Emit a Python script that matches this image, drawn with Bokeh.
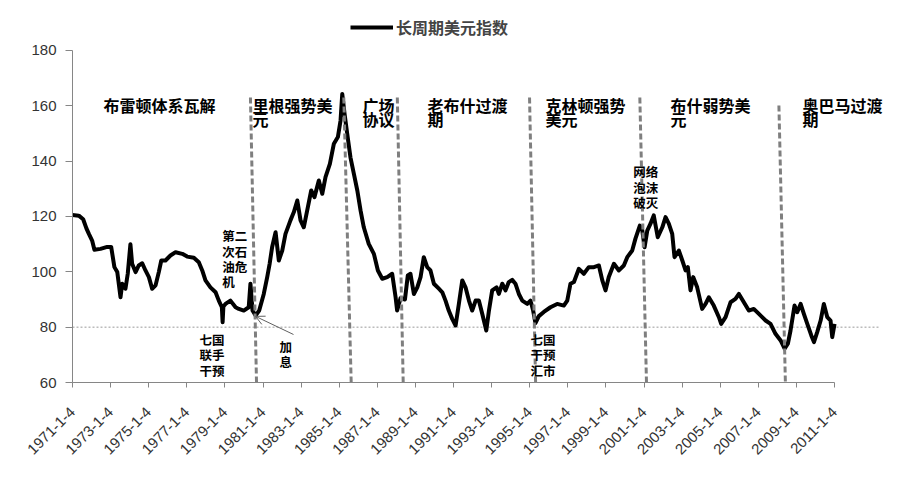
from math import pi
from bokeh.plotting import figure
from bokeh.models import (Range1d, FixedTicker, Legend, LegendItem,
                          Arrow, OpenHead, ColumnDataSource)
from bokeh.core.properties import value
from bokeh.embed import file_html
from bokeh.resources import INLINE

# ---- data (decimal year, index value) ----
years = [1971.00, 1971.33, 1971.56, 1971.73, 1971.86, 1972.03, 1972.15, 1972.47, 1972.82, 1973.03,
         1973.20, 1973.35, 1973.52, 1973.61, 1973.78, 1973.90, 1974.04, 1974.13, 1974.31, 1974.48,
         1974.66, 1974.83, 1975.01, 1975.18, 1975.36, 1975.53, 1975.66, 1975.88, 1976.14, 1976.41,
         1976.76, 1977.02, 1977.37, 1977.63, 1977.81, 1977.98, 1978.24, 1978.51, 1978.68, 1978.84,
         1978.88, 1978.92, 1979.03, 1979.29, 1979.56, 1979.73, 1979.99, 1980.25, 1980.34, 1980.45,
         1980.61, 1980.80, 1981.04, 1981.22, 1981.35, 1981.48, 1981.66, 1981.83, 1982.01, 1982.18,
         1982.44, 1982.62, 1982.80, 1982.97, 1983.14, 1983.32, 1983.53, 1983.70, 1983.93, 1984.11,
         1984.28, 1984.51, 1984.72, 1984.93, 1985.07, 1985.16, 1985.28, 1985.42, 1985.59, 1985.77,
         1985.95, 1986.12, 1986.29, 1986.55, 1986.82, 1987.03, 1987.26, 1987.52, 1987.78, 1987.96,
         1988.04, 1988.22, 1988.45, 1988.60, 1988.74, 1988.92, 1989.10, 1989.27, 1989.44, 1989.62,
         1989.79, 1989.97, 1990.23, 1990.41, 1990.58, 1990.75, 1990.93, 1991.11, 1991.28, 1991.46,
         1991.63, 1991.81, 1991.98, 1992.16, 1992.33, 1992.51, 1992.72, 1992.86, 1993.03, 1993.26,
         1993.38, 1993.56, 1993.73, 1993.90, 1994.08, 1994.25, 1994.43, 1994.61, 1994.87, 1995.04,
         1995.18, 1995.30, 1995.48, 1995.74, 1996.09, 1996.44, 1996.79, 1996.97, 1997.14, 1997.32,
         1997.58, 1997.84, 1998.10, 1998.37, 1998.63, 1998.81, 1998.98, 1999.15, 1999.42, 1999.68,
         1999.94, 2000.12, 2000.38, 2000.55, 2000.78, 2000.91, 2001.03, 2001.17, 2001.34, 2001.51,
         2001.72, 2001.96, 2002.13, 2002.30, 2002.48, 2002.60, 2002.83, 2003.01, 2003.18, 2003.30,
         2003.44, 2003.58, 2003.79, 2004.05, 2004.23, 2004.40, 2004.66, 2004.93, 2005.05, 2005.28,
         2005.54, 2005.80, 2005.98, 2006.24, 2006.50, 2006.76, 2007.03, 2007.38, 2007.64, 2007.90,
         2008.17, 2008.38, 2008.55, 2008.69, 2008.90, 2009.04, 2009.22, 2009.39, 2009.57, 2009.78,
         2009.92, 2010.09, 2010.27, 2010.44, 2010.62, 2010.79, 2010.88, 2011.00]
index_values = [120.5, 120.3, 119.0, 115.7, 113.7, 111.3, 108.0, 108.3, 109.0, 109.0,
                101.7, 99.9, 90.8, 95.7, 93.9, 99.3, 110.0, 102.9, 99.9, 102.3,
                103.1, 100.5, 98.1, 93.9, 95.1, 99.9, 104.1, 104.1, 105.9, 107.1,
                106.5, 105.5, 105.1, 103.5, 100.5, 96.9, 94.4, 92.6, 89.6, 87.2,
                81.8, 87.5, 88.4, 89.6, 87.2, 86.6, 86.0, 87.2, 95.7, 86.0,
                84.2, 86.0, 92.0, 98.1, 103.0, 109.0, 114.3, 104.1, 107.7, 113.7,
                118.6, 121.6, 125.8, 118.6, 116.1, 122.2, 129.4, 127.0, 133.0, 128.2,
                134.2, 139.0, 146.3, 148.7, 154.7, 164.3, 157.1, 149.9, 141.4, 135.4,
                129.4, 122.2, 116.1, 110.1, 106.5, 100.5, 97.5, 98.1, 99.3, 90.8,
                86.0, 90.5, 90.0, 98.7, 99.3, 92.0, 94.4, 98.1, 105.3, 101.7,
                100.5, 95.7, 93.9, 92.6, 89.6, 86.0, 83.0, 80.6, 88.4, 96.9,
                94.4, 89.6, 86.0, 89.6, 89.6, 84.8, 78.8, 86.0, 93.3, 94.4,
                92.0, 95.7, 93.3, 96.3, 97.1, 95.7, 92.0, 89.6, 88.4, 89.6,
                86.0, 81.5, 84.0, 85.5, 87.2, 88.4, 87.8, 89.6, 95.7, 96.3,
                101.1, 99.3, 101.7, 101.7, 102.3, 96.9, 93.3, 98.1, 102.9, 100.5,
                102.3, 105.3, 107.7, 112.0, 116.7, 114.9, 108.9, 114.9, 117.4, 120.4,
                112.5, 116.1, 119.8, 117.4, 113.7, 105.3, 107.7, 104.1, 100.5, 101.7,
                93.3, 98.1, 94.4, 86.6, 88.4, 90.8, 87.8, 83.6, 81.2, 83.6,
                89.0, 90.2, 92.0, 89.0, 86.0, 86.6, 84.8, 82.4, 81.2, 77.6,
                75.2, 72.2, 74.0, 78.8, 87.8, 85.4, 88.4, 84.8, 81.2, 77.0,
                74.6, 78.2, 82.4, 88.4, 83.6, 82.4, 76.4, 81.2]

series_name = "长周期美元指数"
tick_years = list(range(1971, 2012, 2))
tick_labels = [f"{y}-1-4" for y in tick_years]
y_ticks = [60, 80, 100, 120, 140, 160, 180]
reference_level = 80
reference_line_span = (1971, 2013.41)   # extent of the dotted 80 line

# regime boundaries (slanted dashed lines, as drawn in the source)
div_x0 = [1980.34, 1985.24, 1988.05, 1994.99, 2000.78, 2008.08]
div_y0 = [163.0, 163.0, 163.0, 163.0, 163.0, 160.1]
div_x1 = [1980.66, 1985.63, 1988.36, 1995.31, 2001.13, 2008.43]
div_y1 = [59.6, 59.6, 59.6, 59.6, 59.6, 57.1]

period_labels = ["布雷顿体系瓦解", "里根强势美\n元", "广场\n协议", "老布什过渡\n期",
                 "克林顿强势\n美元", "布什弱势美\n元", "奥巴马过渡\n期"]
period_x = [1972.63, 1980.45, 1986.22, 1989.64, 1995.83, 2002.39, 2009.32]
period_y = [164.6] * 7

event_labels = ["第二\n次石\n油危\n机", "七国\n联手\n干预", "加\n息", "七国\n干预\n汇市", "网络\n泡沫\n破灭"]
event_x = [1978.86, 1977.67, 1981.87, 1995.04, 2000.44]
event_y = [116.5, 79.0, 76.5, 79.0, 139.6]

# ---- figure ----
# the frame reaches the top and right of the canvas so texts above 180 / near the edge are not clipped
p = figure(width=899, height=477, output_backend="svg", toolbar_location=None,
           x_range=Range1d(1971, 2014.41), y_range=Range1d(60, 198.07),
           min_border_left=72, min_border_right=0, min_border_top=0, min_border_bottom=95)
p.outline_line_color = None
p.xgrid.visible = False
p.ygrid.visible = False
p.background_fill_color = "white"
p.border_fill_color = "white"

p.segment([reference_line_span[0]], [reference_level], [reference_line_span[1]], [reference_level],
          line_color="#9a9a9a", line_dash="2 2", line_width=1)

src = ColumnDataSource(dict(x=years, y=index_values))
r = p.line("x", "y", source=src, line_color="black", line_width=4, line_join="round")

p.segment(div_x0, div_y0, div_x1, div_y1, line_color="#7f7f7f", line_width=3, line_dash="6 3")

p.text(period_x, period_y, text=period_labels, text_font=value("Noto Sans CJK SC"),
       text_font_style="bold", text_font_size="16px", text_baseline="top", text_align="left",
       text_line_height=0.57, text_color="black")
p.text(event_x, event_y, text=event_labels, text_font=value("Noto Sans CJK SC"),
       text_font_style="bold", text_font_size="12.5px", text_baseline="top", text_align="left",
       text_line_height=0.81, text_color="black")

p.add_layout(Arrow(end=OpenHead(size=9, line_color="#606060", line_width=1),
                   x_start=1982.6, y_start=77.35, x_end=1980.61, y_end=83.9,
                   line_color="#606060", line_width=1))

# axes
xa = p.xaxis[0]
xa.ticker = FixedTicker(ticks=tick_years)
xa.major_label_overrides = {y: l for y, l in zip(tick_years, tick_labels)}
xa.major_label_orientation = pi / 4
xa.major_label_standoff = 22
xa.bounds = (1971, 2011)
xa.axis_line_color = "#868686"
xa.major_tick_line_color = "#868686"
xa.major_tick_out = 5
xa.major_tick_in = 0
xa.minor_tick_line_color = None
xa.major_label_text_font = "Liberation Sans"
xa.major_label_text_font_size = "15px"
xa.major_label_text_color = "#333333"

ya = p.yaxis[0]
ya.ticker = FixedTicker(ticks=y_ticks)
ya.bounds = (60, 180)
ya.axis_line_color = "#868686"
ya.major_tick_line_color = "#868686"
ya.major_tick_out = 7
ya.major_tick_in = 0
ya.major_label_standoff = 9
ya.minor_tick_line_color = None
ya.major_label_text_font = "Liberation Sans"
ya.major_label_text_font_size = "15px"
ya.major_label_text_color = "#333333"

legend = Legend(items=[LegendItem(label=series_name, renderers=[r])],
                location=(278, 343), orientation="horizontal",
                glyph_width=43, glyph_height=20, label_standoff=3,
                padding=0, margin=0, border_line_color=None,
                background_fill_alpha=0,
                label_text_font="Noto Sans CJK SC", label_text_font_style="bold",
                label_text_font_size="16px")
p.add_layout(legend)

open("out.html", "w").write(file_html(p, INLINE))
